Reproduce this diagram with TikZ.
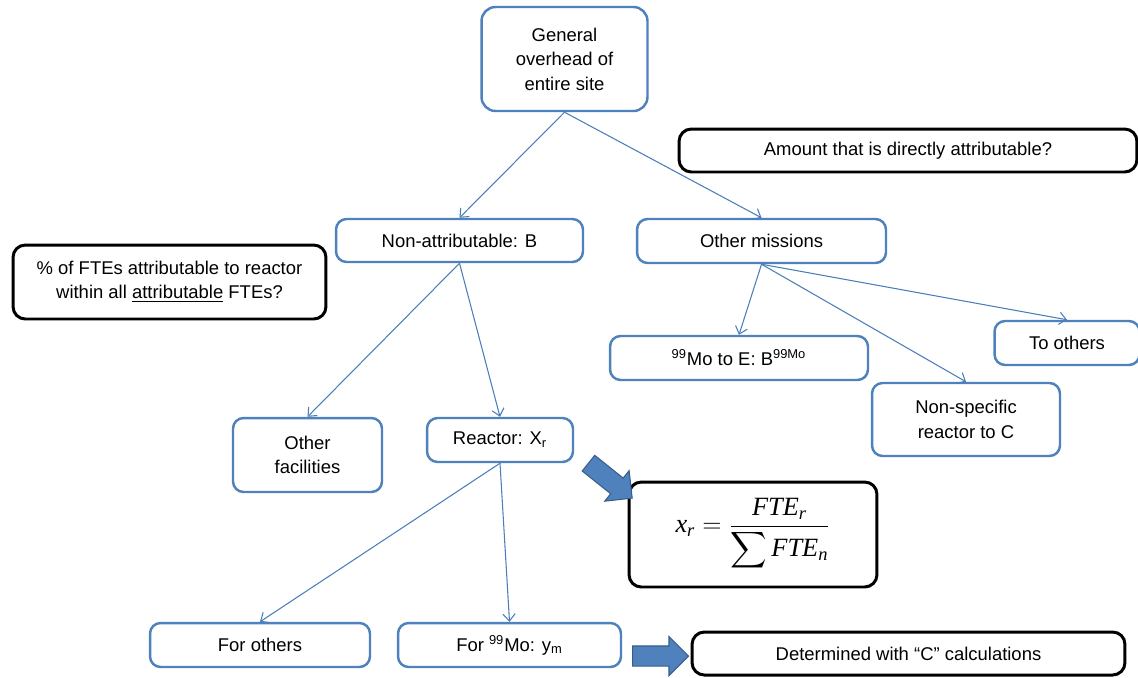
\documentclass[tikz,border=0pt]{standalone}
\usepackage{amsmath}
\usepackage{fontspec}
\setmainfont{Liberation Sans}
\newfontfamily\timesfont{Liberation Serif}
\usetikzlibrary{arrows.meta,shapes.arrows}

\definecolor{boxblue}{RGB}{79,129,189}
\definecolor{lineblue}{RGB}{74,126,187}
\definecolor{arrowedge}{RGB}{56,93,138}
\newcommand{\tms}[1]{\text{\timesfont\itshape #1}}

\tikzset{
	bluebox/.style={draw=boxblue, line width=1.4pt, rounded corners=6pt, align=center, inner sep=2pt},
	blackbox/.style={draw=black, line width=1.7pt, rounded corners=7pt, align=center, inner sep=2pt},
	link/.style={draw=lineblue, line width=0.6pt, -{Straight Barb[length=4pt,width=7pt]}},
	fatarrow/.style={single arrow, fill=boxblue, draw=arrowedge, line width=0.6pt, inner xsep=0pt, inner ysep=0.19cm, single arrow head extend=0.19cm, minimum height=1.12cm},
}

\begin{document}
\begin{tikzpicture}[x=0.02cm, y=-0.02cm, font=\fontsize{10.5}{14}\selectfont]
			\useasboundingbox (0,0) rectangle (1138,677);
			\node[bluebox, rounded corners=8pt, minimum width=3.32cm, minimum height=2.08cm] (gen) at (564.5,59) {General\\overhead of\\entire site};
			\node[blackbox, minimum width=9.16cm, minimum height=0.86cm] (amount) at (908,150.5) {Amount that is directly attributable?};
			\node[bluebox, minimum width=4.94cm, minimum height=0.86cm] (nonattr) at (459.5,240.5) {Non-attributable: B};
			\node[bluebox, minimum width=4.98cm, minimum height=0.88cm] (othmis) at (761.5,241) {Other missions};
			\node[blackbox, minimum width=6.26cm, minimum height=1.48cm] (pct) at (169.5,282) {\% of FTEs attributable to reactor\\within all \underline{attributable} FTEs?};
			\node[bluebox, minimum width=5.16cm, minimum height=0.88cm] (mo) at (739,358) {\textsuperscript{99}Mo to E: B\textsuperscript{99Mo}};
			\node[bluebox, minimum width=2.9cm, minimum height=0.88cm] (toothers) at (1067,343) {To others};
			\node[bluebox, minimum width=3.76cm, minimum height=1.46cm] (nonspec) at (966,419.5) {Non-specific\\reactor to C};
			\node[bluebox, minimum width=2.98cm, minimum height=1.48cm] (otherfac) at (307.5,455) {Other\\facilities};
			\node[bluebox, minimum width=2.92cm, minimum height=0.88cm] (reactor) at (500,440) {Reactor: X\textsubscript{r}};
			\node[blackbox, minimum width=4.96cm, minimum height=2.1cm, font=\fontsize{15}{18}\selectfont] (formula) at (753,534.5) {$\tms{x}_{\tms{r}} = \dfrac{\tms{FTE}_{\tms{r}}}{\displaystyle\sum \tms{FTE}_{\tms{n}}}$};
			\node[bluebox, minimum width=4.4cm, minimum height=0.88cm] (forothers) at (260,645) {For others};
			\node[bluebox, minimum width=4.46cm, minimum height=0.88cm] (for99) at (509.5,645) {For \textsuperscript{99}Mo: y\textsubscript{m}};
			\node[blackbox, minimum width=8.66cm, minimum height=0.86cm] (determined) at (908.5,653.5) {Determined with “C” calculations};
			
			\draw[link] (gen.south) -- (nonattr.north);
			\draw[link] (gen.south) -- (othmis.north);
			\draw[link] (nonattr.south) -- (otherfac.north);
			\draw[link] (nonattr.south) -- (reactor.north);
			\foreach \t in {mo, nonspec, toothers}{
				\draw[link] (othmis.south) -- (\t.north);
			}
			\draw[link] (reactor.south) -- (forothers.north);
			\draw[link] (reactor.south) -- (for99.north);
			
			\node[fatarrow, rotate=-38.6] (toformula) at (606.4,477.5) {};
			\node[fatarrow] (tocalc) at (655.5,656) {};
		\end{tikzpicture}
\end{document}
